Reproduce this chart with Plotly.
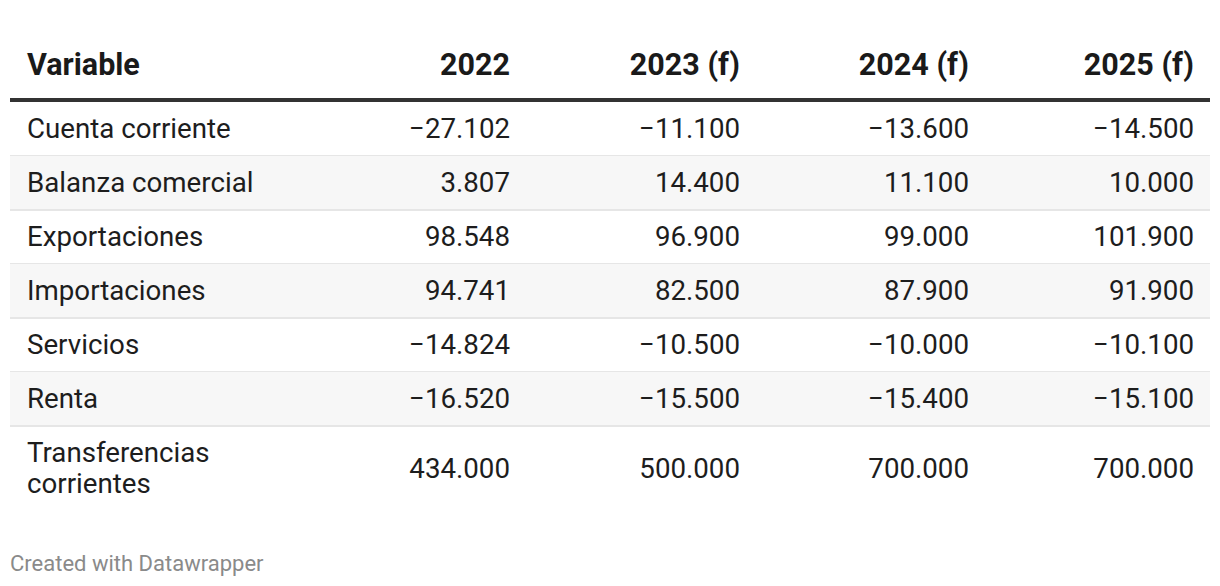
import plotly.graph_objects as go

# ---- data ----
variables = ["Cuenta corriente", "Balanza comercial", "Exportaciones", "Importaciones",
             "Servicios", "Renta", "Transferencias\ncorrientes"]
columns = ["2022", "2023 (f)", "2024 (f)", "2025 (f)"]
v2022 = [-27102, 3807, 98548, 94741, -14824, -16520, 434000]
v2023 = [-11100, 14400, 96900, 82500, -10500, -15500, 500000]
v2024 = [-13600, 11100, 99000, 87900, -10000, -15400, 700000]
v2025 = [-14500, 10000, 101900, 91900, -10100, -15100, 700000]
series = [v2022, v2023, v2024, v2025]

def fmt(v):
    s = f"{abs(v):,}".replace(",", ".")
    return ("\u2212" + s) if v < 0 else s

# ---- layout constants ----
W, H = 1220, 586
OFF = 8  # page body margin
LEFT, RIGHT = 10, 1210
LABEL_X = 27
COL_RIGHT = [510, 740, 969, 1194]
TEXT_DY = 3
HEADER_Y = 64 + TEXT_DY
HEADER_LINE = 100
ROW_TOP = 102
ROW_H = 54
LAST_ROW_H = 86
LINE_GAP = 31

row_tops, row_centers, row_bottoms = [], [], []
t = ROW_TOP
for i in range(len(variables)):
    h = LAST_ROW_H if i == len(variables) - 1 else ROW_H
    row_tops.append(t)
    row_centers.append(t + h / 2 - 1 + TEXT_DY)
    row_bottoms.append(t + h)
    t += h

FONT = "Roboto, 'Noto Sans', sans-serif"
BODY = 27.7
HEAD = 30.5
fig = go.Figure()

# header
fig.add_trace(go.Scatter(x=[LABEL_X], y=[HEADER_Y], mode="text", text=["<b>Variable</b>"],
                         textposition="middle right",
                         textfont=dict(family=FONT, size=HEAD, color="#1a1a1a"),
                         hoverinfo="skip", showlegend=False))
fig.add_trace(go.Scatter(x=COL_RIGHT, y=[HEADER_Y] * len(columns), mode="text",
                         text=[f"<b>{c}</b>" for c in columns], textposition="middle left",
                         textfont=dict(family=FONT, size=HEAD, color="#1a1a1a"),
                         hoverinfo="skip", showlegend=False))

# row labels (multi-line labels split into separate lines)
lx, ly, lt = [], [], []
for name, cy in zip(variables, row_centers):
    parts = name.split("\n")
    n = len(parts)
    for k, p in enumerate(parts):
        lx.append(LABEL_X)
        ly.append(cy + (k - (n - 1) / 2) * LINE_GAP)
        lt.append(p)
fig.add_trace(go.Scatter(x=lx, y=ly, mode="text", text=lt, textposition="middle right",
                         textfont=dict(family=FONT, size=BODY, color="#1d1d1d"),
                         hoverinfo="skip", showlegend=False))
# values
for cx, vals in zip(COL_RIGHT, series):
    fig.add_trace(go.Scatter(x=[cx] * len(vals), y=row_centers, mode="text",
                             text=[fmt(v) for v in vals], textposition="middle left",
                             textfont=dict(family=FONT, size=BODY, color="#1d1d1d"),
                             hoverinfo="skip", showlegend=False))

shapes = []
for i, (tp, bt) in enumerate(zip(row_tops, row_bottoms)):
    if i % 2 == 1:
        shapes.append(dict(type="rect", xref="x", yref="y", x0=LEFT, x1=RIGHT, y0=tp, y1=bt,
                           fillcolor="#f7f7f7", line=dict(width=0), layer="below"))
    if i < len(variables) - 1:
        shapes.append(dict(type="line", xref="x", yref="y", x0=LEFT, x1=RIGHT, y0=bt, y1=bt,
                           line=dict(color="#e6e6e6", width=2), layer="below"))
shapes.append(dict(type="line", xref="x", yref="y", x0=LEFT, x1=RIGHT, y0=HEADER_LINE, y1=HEADER_LINE,
                   line=dict(color="#333333", width=4)))

fig.update_layout(
    width=W, height=H, margin=dict(l=0, r=0, t=0, b=0),
    paper_bgcolor="white", plot_bgcolor="white",
    xaxis=dict(range=[OFF, W + OFF], visible=False, fixedrange=True),
    yaxis=dict(range=[H + OFF, OFF], visible=False, fixedrange=True),
    shapes=shapes,
    annotations=[dict(text="Created with Datawrapper", x=8, y=563, xref="x", yref="y",
                      xanchor="left", yanchor="middle", showarrow=False,
                      font=dict(family=FONT, size=22, color="#8a8a8a"))],
)

fig.write_html("out.html")
